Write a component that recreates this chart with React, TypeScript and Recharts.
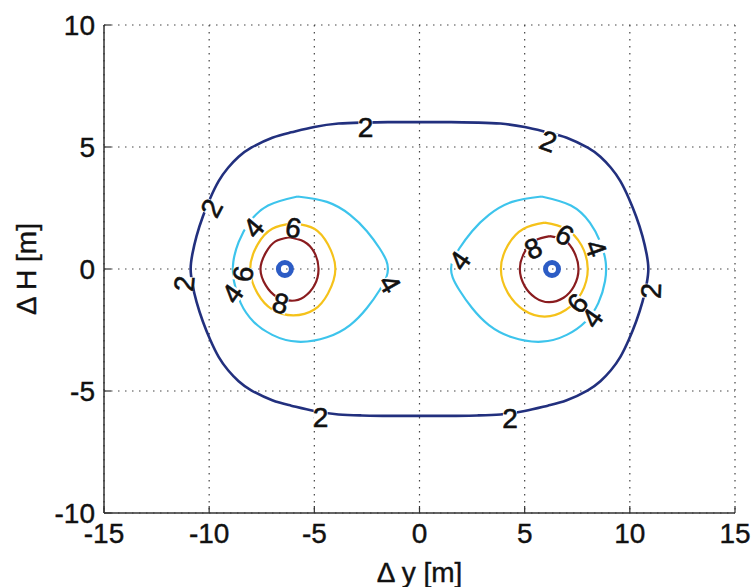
import React from 'react';
import { ComposedChart, Line, Scatter, XAxis, YAxis, CartesianGrid } from 'recharts';

// Axis ticks
const xTicks = [-15, -10, -5, 0, 5, 10, 15];
const yTicks = [-10, -5, 0, 5, 10];

// Contour level 2 (outer closed curve)
const contour2 = [
  { x: 0, y: 6.02 }, { x: 1.5, y: 6.02 }, { x: 2.8, y: 6.0 }, { x: 3.85, y: 5.96 }, { x: 5.0, y: 5.82 },
  { x: 6.1, y: 5.6 }, { x: 7.0, y: 5.38 }, { x: 8.0, y: 4.97 }, { x: 8.6, y: 4.6 }, { x: 9.1, y: 4.15 },
  { x: 9.55, y: 3.6 }, { x: 9.95, y: 2.9 }, { x: 10.3, y: 2.15 }, { x: 10.6, y: 1.35 }, { x: 10.8, y: 0.6 },
  { x: 10.88, y: 0 }, { x: 10.8, y: -0.6 }, { x: 10.6, y: -1.35 }, { x: 10.3, y: -2.15 }, { x: 9.95, y: -2.9 },
  { x: 9.55, y: -3.6 }, { x: 9.1, y: -4.15 }, { x: 8.6, y: -4.6 }, { x: 8.0, y: -4.97 }, { x: 7.0, y: -5.38 },
  { x: 6.1, y: -5.6 }, { x: 5.0, y: -5.82 }, { x: 3.85, y: -5.96 }, { x: 2.8, y: -6.0 }, { x: 1.5, y: -6.02 },
  { x: 0, y: -6.02 }, { x: -1.5, y: -6.02 }, { x: -2.8, y: -6.0 }, { x: -3.85, y: -5.96 }, { x: -5.0, y: -5.82 },
  { x: -6.1, y: -5.6 }, { x: -7.0, y: -5.38 }, { x: -8.0, y: -4.97 }, { x: -8.6, y: -4.6 }, { x: -9.1, y: -4.15 },
  { x: -9.55, y: -3.6 }, { x: -9.95, y: -2.9 }, { x: -10.3, y: -2.15 }, { x: -10.6, y: -1.35 }, { x: -10.8, y: -0.6 },
  { x: -10.88, y: 0 }, { x: -10.8, y: 0.6 }, { x: -10.6, y: 1.35 }, { x: -10.3, y: 2.15 }, { x: -9.95, y: 2.9 },
  { x: -9.55, y: 3.6 }, { x: -9.1, y: 4.15 }, { x: -8.6, y: 4.6 }, { x: -8.0, y: 4.97 }, { x: -7.0, y: 5.38 },
  { x: -6.1, y: 5.6 }, { x: -5.0, y: 5.82 }, { x: -3.85, y: 5.96 }, { x: -2.8, y: 6.0 }, { x: -1.5, y: 6.02 },
  { x: 0, y: 6.02 },
];

// Contour level 4 (left and right)
const contour4Left = [
  { x: -5.8, y: 2.97 }, { x: -4.4, y: 2.75 }, { x: -3.3, y: 2.22 }, { x: -2.5, y: 1.55 }, { x: -1.9, y: 0.85 },
  { x: -1.58, y: 0.35 }, { x: -1.5, y: 0 }, { x: -1.58, y: -0.35 }, { x: -1.9, y: -0.87 }, { x: -2.5, y: -1.6 },
  { x: -3.3, y: -2.3 }, { x: -4.4, y: -2.8 }, { x: -5.8, y: -2.98 }, { x: -7.0, y: -2.7 }, { x: -7.9, y: -2.15 },
  { x: -8.5, y: -1.4 }, { x: -8.82, y: -0.5 }, { x: -8.85, y: 0.3 }, { x: -8.6, y: 1.1 }, { x: -8.1, y: 1.9 },
  { x: -7.2, y: 2.6 }, { x: -5.8, y: 2.97 },
];
const contour4Right = [
  { x: 5.8, y: 2.97 }, { x: 7.2, y: 2.6 }, { x: 8.1, y: 1.9 }, { x: 8.6, y: 1.1 }, { x: 8.85, y: 0.3 },
  { x: 8.82, y: -0.5 }, { x: 8.5, y: -1.4 }, { x: 7.9, y: -2.15 }, { x: 7.0, y: -2.7 }, { x: 5.8, y: -2.98 },
  { x: 4.4, y: -2.8 }, { x: 3.3, y: -2.3 }, { x: 2.5, y: -1.6 }, { x: 1.9, y: -0.87 }, { x: 1.58, y: -0.35 },
  { x: 1.5, y: 0 }, { x: 1.58, y: 0.35 }, { x: 1.9, y: 0.85 }, { x: 2.5, y: 1.55 }, { x: 3.3, y: 2.22 },
  { x: 4.4, y: 2.75 }, { x: 5.8, y: 2.97 },
];

// Contour level 6
const contour6Left = [
  { x: -6.0, y: 1.88 }, { x: -5.0, y: 1.65 }, { x: -4.35, y: 1.0 }, { x: -4.0, y: 0 }, { x: -4.35, y: -1.0 },
  { x: -5.0, y: -1.66 }, { x: -6.0, y: -1.9 }, { x: -7.0, y: -1.66 }, { x: -7.7, y: -1.0 }, { x: -8.05, y: 0 },
  { x: -7.7, y: 1.0 }, { x: -7.0, y: 1.65 }, { x: -6.0, y: 1.88 },
];
const contour6Right = [
  { x: 5.95, y: 1.9 }, { x: 6.95, y: 1.65 }, { x: 7.7, y: 0.97 }, { x: 8.0, y: 0 }, { x: 7.7, y: -0.98 },
  { x: 6.95, y: -1.68 }, { x: 5.95, y: -1.95 }, { x: 4.95, y: -1.68 }, { x: 4.2, y: -0.98 }, { x: 3.87, y: 0 },
  { x: 4.2, y: 0.97 }, { x: 4.95, y: 1.65 }, { x: 5.95, y: 1.9 },
];

// Contour level 8
const contour8Left = [
  { x: -6.2, y: 1.3 }, { x: -5.5, y: 1.13 }, { x: -5.0, y: 0.68 }, { x: -4.8, y: 0 }, { x: -5.0, y: -0.68 },
  { x: -5.5, y: -1.15 }, { x: -6.1, y: -1.3 }, { x: -6.8, y: -1.13 }, { x: -7.3, y: -0.68 }, { x: -7.56, y: 0 },
  { x: -7.3, y: 0.68 }, { x: -6.85, y: 1.13 }, { x: -6.2, y: 1.3 },
];
const contour8Right = [
  { x: 6.2, y: 1.35 }, { x: 6.9, y: 1.17 }, { x: 7.35, y: 0.7 }, { x: 7.56, y: 0 }, { x: 7.35, y: -0.7 },
  { x: 6.85, y: -1.18 }, { x: 6.15, y: -1.36 }, { x: 5.5, y: -1.17 }, { x: 5.0, y: -0.7 }, { x: 4.77, y: 0 },
  { x: 5.0, y: 0.7 }, { x: 5.5, y: 1.17 }, { x: 6.2, y: 1.35 },
];

// Source positions (circle markers)
const sources = [
  { x: -6.4, y: 0 },
  { x: 6.3, y: 0 },
];

// Contour labels: value text, location, rotation
const contourLabels = [
  { x: -2.57, y: 5.8, text: '2', angle: 0 },
  { x: 6.13, y: 5.25, text: '2', angle: 20 },
  { x: -9.9, y: 2.5, text: '2', angle: -62 },
  { x: -11.2, y: -0.6, text: '2', angle: -85 },
  { x: 11.0, y: -0.9, text: '2', angle: -88 },
  { x: -4.7, y: -6.05, text: '2', angle: 0 },
  { x: 4.3, y: -6.1, text: '2', angle: 0 },
  { x: -7.9, y: 1.7, text: '4', angle: -50 },
  { x: -6.0, y: 1.7, text: '6', angle: 10 },
  { x: -8.4, y: -0.2, text: '6', angle: -80 },
  { x: -8.9, y: -1.0, text: '4', angle: -55 },
  { x: -6.6, y: -1.4, text: '8', angle: 15 },
  { x: -1.4, y: -0.6, text: '4', angle: 60 },
  { x: 1.9, y: 0.35, text: '4', angle: -55 },
  { x: 5.4, y: 0.85, text: '8', angle: -25 },
  { x: 6.9, y: 1.4, text: '6', angle: 30 },
  { x: 8.4, y: 0.85, text: '4', angle: 70 },
  { x: 7.5, y: -1.4, text: '6', angle: -50 },
  { x: 8.2, y: -2.0, text: '4', angle: -55 },
];

const FONT = '"Liberation Sans", Arial, Helvetica, sans-serif';

const XTick = (props: any) => {
  const { x, y, payload } = props;
  return (
    <g>
      <line x1={x} y1={y} x2={x} y2={y - 7} stroke="#333" strokeWidth={1.2} />
      <text x={x} y={y + 30} textAnchor="middle" fontSize={28} fontFamily={FONT} fill="#111" stroke="#111" strokeWidth={0.4}>
        {payload.value}
      </text>
    </g>
  );
};

const YTick = (props: any) => {
  const { x, y, payload } = props;
  return (
    <g>
      <line x1={x} y1={y} x2={x + 7} y2={y} stroke="#333" strokeWidth={1.2} />
      <text x={x - 9} y={y + 10} textAnchor="end" fontSize={28} fontFamily={FONT} fill="#111" stroke="#111" strokeWidth={0.4}>
        {payload.value}
      </text>
    </g>
  );
};

const LabelShape = (props: any) => {
  const { cx, cy, payload } = props;
  if (cx == null || cy == null) return null;
  return (
    <g transform={`translate(${cx},${cy}) rotate(${payload.angle})`}>
      <rect x={-7} y={-10} width={14} height={20} fill="#ffffff" />
      <text x={0} y={10} textAnchor="middle" fontSize={28} fontFamily={FONT} fill="#111" stroke="#111" strokeWidth={0.6}>
        {payload.text}
      </text>
    </g>
  );
};

const RingShape = (props: any) => {
  const { cx, cy } = props;
  if (cx == null || cy == null) return null;
  return <circle cx={cx} cy={cy} r={6.5} fill="none" stroke="#2c5cc5" strokeWidth={5} />;
};

const XLabel = (props: any) => {
  const vb = props.viewBox || {};
  return (
    <text x={vb.x + vb.width / 2} y={vb.y + 69} textAnchor="middle" fontSize={28} fontFamily={FONT} fill="#111" stroke="#111" strokeWidth={0.4}>
      Δ y [m]
    </text>
  );
};

const YLabel = (props: any) => {
  const vb = props.viewBox || {};
  const cx = 36;
  const cy = vb.y + vb.height / 2;
  return (
    <text x={cx} y={cy} transform={`rotate(-90, ${cx}, ${cy})`} textAnchor="middle" fontSize={28} fontFamily={FONT} fill="#111" stroke="#111" strokeWidth={0.4}>
      Δ H [m]
    </text>
  );
};

export default function App() {
  return (
    <div style={{ position: 'absolute', left: 0, top: 0, width: 755, height: 587, background: '#fff' }}>
      <ComposedChart width={755} height={587} margin={{ top: 25, right: 20, bottom: 4, left: 0 }}>
        <CartesianGrid stroke="#444" strokeDasharray="1.5 5.5" strokeWidth={1.2} />
        <XAxis
          dataKey="x"
          type="number"
          domain={[-15, 15]}
          ticks={xTicks}
          allowDataOverflow
          height={70}
          tickSize={0}
          tickMargin={0}
          tick={<XTick />}
          axisLine={{ stroke: '#333', strokeWidth: 1.5 }}
          tickLine={false}
          label={<XLabel />}
        />
        <YAxis
          dataKey="y"
          type="number"
          domain={[-10, 10]}
          ticks={yTicks}
          allowDataOverflow
          width={104}
          tickSize={0}
          tickMargin={0}
          tick={<YTick />}
          axisLine={{ stroke: '#333', strokeWidth: 1.5 }}
          tickLine={false}
          label={<YLabel />}
        />
        <Line data={contour2} dataKey="y" type="natural" stroke="#22307e" strokeWidth={2.6} dot={false} activeDot={false} isAnimationActive={false} />
        <Line data={contour4Left} dataKey="y" type="natural" stroke="#3dc4ec" strokeWidth={2.2} dot={false} activeDot={false} isAnimationActive={false} />
        <Line data={contour4Right} dataKey="y" type="natural" stroke="#3dc4ec" strokeWidth={2.2} dot={false} activeDot={false} isAnimationActive={false} />
        <Line data={contour6Left} dataKey="y" type="natural" stroke="#f5c21a" strokeWidth={2.2} dot={false} activeDot={false} isAnimationActive={false} />
        <Line data={contour6Right} dataKey="y" type="natural" stroke="#f5c21a" strokeWidth={2.2} dot={false} activeDot={false} isAnimationActive={false} />
        <Line data={contour8Left} dataKey="y" type="natural" stroke="#8a1c1f" strokeWidth={2.2} dot={false} activeDot={false} isAnimationActive={false} />
        <Line data={contour8Right} dataKey="y" type="natural" stroke="#8a1c1f" strokeWidth={2.2} dot={false} activeDot={false} isAnimationActive={false} />
        <Scatter data={sources} shape={<RingShape />} isAnimationActive={false} />
        <Scatter data={contourLabels} shape={<LabelShape />} isAnimationActive={false} />
      </ComposedChart>
    </div>
  );
}
